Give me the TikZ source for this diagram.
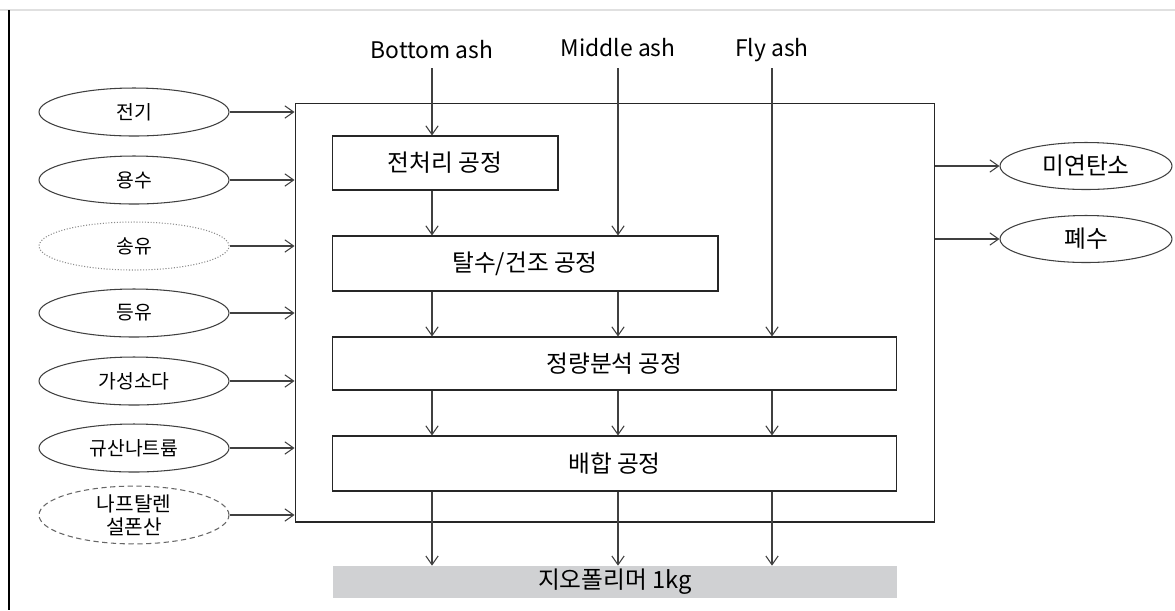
\documentclass[tikz,border=0pt]{standalone}
\usepackage{fontspec}
\setmainfont{Noto Sans CJK KR}
\usetikzlibrary{arrows.meta,shapes.geometric}
\definecolor{ln}{HTML}{404040}
\definecolor{geofill}{HTML}{D0D1D3}
\tikzset{
  arr/.style={draw=ln, line width=0.6pt, -{Straight Barb[length=5pt,width=7pt]}},
  ell/.style={ellipse, draw=ln, line width=0.6pt, minimum width=3.8cm, minimum height=0.96cm, inner sep=0pt, font=\fontsize{11}{12}\selectfont, align=center},
  proc/.style={rectangle, draw=black!85, line width=0.6pt, inner sep=0pt, font=\fontsize{13.5}{15}\selectfont},
  lbl/.style={font=\fontsize{13}{15}\selectfont, inner sep=2pt}
}
\begin{document}
\begin{tikzpicture}[x=0.02cm, y=-0.02cm]
\useasboundingbox (0,0) rectangle (1175,610);
\fill[white] (0,0) rectangle (1175,610);
% frame lines
\draw[black!12, line width=0.6pt] (0,10) -- (1175,10);
\draw[black, line width=0.8pt] (9,10) -- (9,610);
% main box
\node[rectangle, draw=black!85, line width=0.6pt, minimum width=12.8cm, minimum height=8.38cm, inner sep=0pt] (main) at (615,312.5) {};
% process boxes
\node[proc, minimum width=4.52cm, minimum height=1.08cm] (pre) at (445,163) {전처리 공정};
\node[proc, minimum width=7.72cm, minimum height=1.1cm] (dry) at (525,263.5) {탈수/건조 공정};
\node[proc, minimum width=11.3cm, minimum height=1.06cm] (quant) at (614.5,363.5) {정량분석 공정};
\node[proc, minimum width=11.3cm, minimum height=1.1cm] (mix) at (614.5,463.5) {배합 공정};
\node[rectangle, fill=geofill, minimum width=11.28cm, minimum height=0.64cm, inner sep=0pt, font=\fontsize{13.5}{15}\selectfont] (geo) at (615,582) {지오폴리머 1kg};
% top labels
\node[lbl] (lb) at (432,50) {Bottom ash};
\node[lbl] (lm) at (618,48) {Middle ash};
\node[lbl] (lf) at (772,50) {Fly ash};
\coordinate (cB) at (432,0);
\coordinate (cM) at (618,0);
\coordinate (cF) at (772,0);
\draw[arr] (lb.south |- 0,68) -- (pre.north -| cB);
\draw[arr] (lm.south |- 0,68) -- (dry.north -| cM);
\draw[arr] (lf.south |- 0,68) -- (quant.north -| cF);
\draw[arr] (pre.south -| cB) -- (dry.north -| cB);
\draw[arr] (dry.south -| cB) -- (quant.north -| cB);
\draw[arr] (dry.south -| cM) -- (quant.north -| cM);
\foreach \c in {cB,cM,cF}{
  \draw[arr] (quant.south -| \c) -- (mix.north -| \c);
  \draw[arr] (mix.south -| \c) -- (geo.north -| \c);
}
% left inputs
\node[ell] (e1) at (134,112) {전기};
\node[ell] (e2) at (134,180) {용수};
\node[ell, draw=black!45, densely dotted] (e3) at (134,246) {송유};
\node[ell] (e4) at (134,313) {등유};
\node[ell] (e5) at (134,381) {가성소다};
\node[ell] (e6) at (134,448) {규산나트륨};
\node[ell, draw=black!60, densely dashed, font=\fontsize{11.5}{13}\selectfont] (e7) at (134,515) {나프탈렌\\설폰산};
\foreach \e in {e1,e2,e3,e4,e5,e6,e7}{
  \draw[arr] (\e.east) -- (\e.east -| main.west);
}
% right outputs
\node[ell, minimum width=3.44cm, minimum height=0.94cm, font=\fontsize{13.5}{15}\selectfont] (r1) at (1086,166) {미연탄소};
\node[ell, minimum width=3.44cm, minimum height=0.94cm, font=\fontsize{13.5}{15}\selectfont] (r2) at (1086,239) {폐수};
\draw[arr] (main.east |- r1.west) -- (r1.west);
\draw[arr] (main.east |- r2.west) -- (r2.west);
\end{tikzpicture}
\end{document}
